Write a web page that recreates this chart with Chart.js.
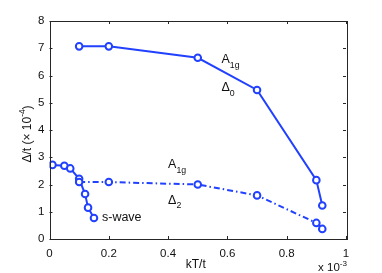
<!DOCTYPE html>
<html>
<head>
<meta charset="utf-8">
<script src="https://cdn.jsdelivr.net/npm/chart.js@4"></script>
<style>
  html, body { margin: 0; padding: 0; background: #fff; }
  #wrap { width: 382px; height: 273px; }
</style>
</head>
<body>
<div id="wrap"><canvas id="gapChart" width="382" height="273"></canvas></div>
<script>
// data (kT/t in units of 1e-3, gap in units of 1e-4)
var a1gD0_T = [0.1, 0.2, 0.5, 0.7, 0.9, 0.92];
var a1gD0_gap = [7.07, 7.07, 6.65, 5.47, 2.16, 1.23];

var a1gD2_T = [0.1, 0.2, 0.5, 0.7, 0.9, 0.92];
var a1gD2_gap = [2.09, 2.09, 2.0, 1.6, 0.59, 0.37];

var swave_T = [0.01, 0.05, 0.07, 0.1, 0.12, 0.13, 0.15];
var swave_gap = [2.72, 2.69, 2.59, 2.21, 1.65, 1.15, 0.77];

var xTicks = [0, 0.2, 0.4, 0.6, 0.8, 1];
var yTicks = [0, 1, 2, 3, 4, 5, 6, 7, 8];

var blue = '#2141ff';
var tickFont = '11.5px "Liberation Sans", Arial, sans-serif';

function pts(xs, ys) {
	return xs.map(function (x, i) { return { x: x, y: ys[i] }; });
}

function series(xs, ys, dash) {
	return {
		data: pts(xs, ys),
		borderColor: blue,
		borderWidth: 2,
		borderDash: dash || [],
		pointRadius: 3.3,
		pointBorderWidth: 2,
		pointBackgroundColor: '#fff',
		pointBorderColor: blue,
		showLine: true,
		fill: false,
		tension: 0
	};
}

// draw text with sub/superscript pieces, left aligned at x
function richText(ctx, x, y, parts, size) {
	var cx = x;
	parts.forEach(function (p) {
		var s = p.sub || p.sup ? size * 0.7 : size;
		var dy = p.sub ? size * 0.35 : (p.sup ? -size * 0.45 : 0);
		ctx.font = s + 'px "Liberation Sans", Arial, sans-serif';
		ctx.fillText(p.t, cx, y + dy);
		cx += ctx.measureText(p.t).width;
	});
	return cx - x;
}
function richWidth(ctx, parts, size) {
	var w = 0;
	parts.forEach(function (p) {
		var s = p.sub || p.sup ? size * 0.7 : size;
		ctx.font = s + 'px "Liberation Sans", Arial, sans-serif';
		w += ctx.measureText(p.t).width;
	});
	return w;
}

// labels placed in data units
var notes = [
	{ x: 0.58, y: 6.45, parts: [{ t: 'A' }, { t: '1g', sub: true }] },
	{ x: 0.58, y: 5.42, parts: [{ t: '\u0394' }, { t: '0', sub: true }] },
	{ x: 0.40, y: 2.60, parts: [{ t: 'A' }, { t: '1g', sub: true }] },
	{ x: 0.40, y: 1.28, parts: [{ t: '\u0394' }, { t: '2', sub: true }] },
	{ x: 0.177, y: 0.66, parts: [{ t: 's-wave' }] }
];

var matlabBox = {
	id: 'matlabBox',
	afterDraw: function (chart) {
		var ctx = chart.ctx, a = chart.chartArea;
		var xs = chart.scales.x, ys = chart.scales.y;
		ctx.save();
		ctx.strokeStyle = '#262626';
		ctx.lineWidth = 1;
		ctx.strokeRect(Math.round(a.left) + 0.5, Math.round(a.top) + 0.5,
			Math.round(a.right - a.left), Math.round(a.bottom - a.top));
		ctx.beginPath();
		xTicks.forEach(function (v) {
			var px = Math.round(xs.getPixelForValue(v)) + 0.5;
			ctx.moveTo(px, a.bottom); ctx.lineTo(px, a.bottom - 3);
			ctx.moveTo(px, a.top); ctx.lineTo(px, a.top + 3);
		});
		yTicks.forEach(function (v) {
			var py = Math.round(ys.getPixelForValue(v)) + 0.5;
			ctx.moveTo(a.left, py); ctx.lineTo(a.left + 3, py);
			ctx.moveTo(a.right, py); ctx.lineTo(a.right - 3, py);
		});
		ctx.stroke();

		ctx.fillStyle = '#111';
		ctx.textBaseline = 'alphabetic';
		ctx.textAlign = 'left';
		notes.forEach(function (n) {
			richText(ctx, xs.getPixelForValue(n.x), ys.getPixelForValue(n.y), n.parts, 12.5);
		});

		// x title
		var xt = [{ t: 'kT/t' }];
		var w = richWidth(ctx, xt, 12);
		richText(ctx, (a.left + a.right) / 2 - w / 2 - 2, a.bottom + 29, xt, 12);

		// exponent of x axis
		var ex = [{ t: 'x 10' }, { t: '-3', sup: true }];
		w = richWidth(ctx, ex, 11.5);
		richText(ctx, a.right - w + 1, a.bottom + 32, ex, 11.5);

		// y title, rotated
		var yt = [{ t: '\u0394/t (\u00d7 10' }, { t: '-4', sup: true }, { t: ')' }];
		w = richWidth(ctx, yt, 12);
		ctx.translate(a.left - 19, (a.top + a.bottom) / 2 + 4);
		ctx.rotate(-Math.PI / 2);
		richText(ctx, -w / 2, 0, yt, 12);
		ctx.restore();
	}
};

var ctx = document.getElementById('gapChart').getContext('2d');
var gapChart = new Chart(ctx, {
	type: 'line',
	data: {
		datasets: [
			series(a1gD0_T, a1gD0_gap),
			series(a1gD2_T, a1gD2_gap, [6, 3, 1.5, 3]),
			series(swave_T, swave_gap)
		]
	},
	options: {
		responsive: false,
		animation: false,
		devicePixelRatio: 1,
		layout: { padding: { top: 21, right: 36, bottom: 0, left: 0 } },
		plugins: {
			legend: { display: false },
			tooltip: { enabled: false }
		},
		scales: {
			x: {
				type: 'linear',
				min: 0,
				max: 1,
				afterBuildTicks: function (s) { s.ticks = xTicks.map(function (v) { return { value: v }; }); },
				afterFit: function (s) { s.height = 34; },
				grid: { display: false, drawTicks: false },
				border: { display: false },
				ticks: {
					padding: 8,
					color: '#111',
					font: { family: '"Liberation Sans", Arial, sans-serif', size: 11.5 },
					maxRotation: 0,
					callback: function (v) { return String(+v.toFixed(1)); }
				}
			},
			y: {
				type: 'linear',
				min: 0,
				max: 8,
				afterBuildTicks: function (s) { s.ticks = yTicks.map(function (v) { return { value: v }; }); },
				afterFit: function (s) { s.width = 49.5; },
				grid: { display: false, drawTicks: false },
				border: { display: false },
				ticks: {
					padding: 5,
					color: '#111',
					font: { family: '"Liberation Sans", Arial, sans-serif', size: 11.5 },
					callback: function (v) { return String(v); }
				}
			}
		}
	},
	plugins: [matlabBox]
});
</script>
</body>
</html>
